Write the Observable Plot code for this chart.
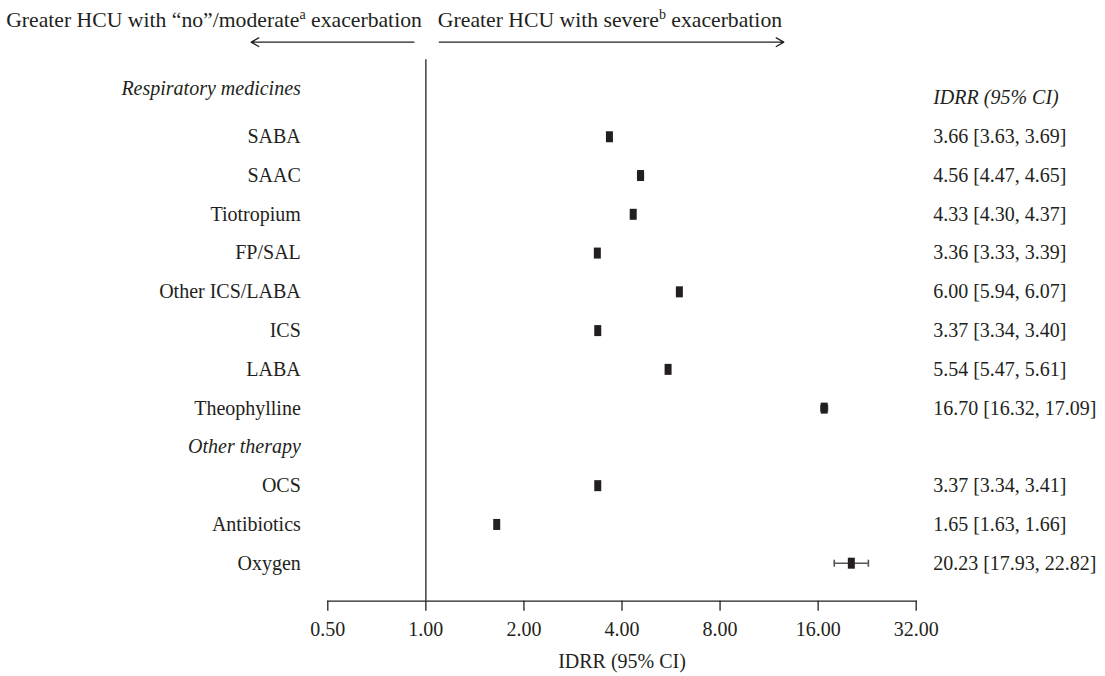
<!DOCTYPE html>
<html>
<head>
<meta charset="utf-8">
<script src="https://cdn.jsdelivr.net/npm/d3@7"></script>
<script src="https://cdn.jsdelivr.net/npm/@observablehq/plot@0.6"></script>
<style>
  html, body { margin: 0; padding: 0; background: #fff; }
</style>
</head>
<body>
<div id="chart"></div>
<script>
// ---- data ----
const labels = ["Respiratory medicines", "SABA", "SAAC", "Tiotropium", "FP/SAL", "Other ICS/LABA",
  "ICS", "LABA", "Theophylline", "Other therapy", "OCS", "Antibiotics", "Oxygen"];
const headingRows = ["Respiratory medicines", "Other therapy"];
const estimate = [null, 3.66, 4.56, 4.33, 3.36, 6.00, 3.37, 5.54, 16.70, null, 3.37, 1.65, 20.23];
const lower    = [null, 3.63, 4.47, 4.30, 3.33, 5.94, 3.34, 5.47, 16.32, null, 3.34, 1.63, 17.93];
const upper    = [null, 3.69, 4.65, 4.37, 3.39, 6.07, 3.40, 5.61, 17.09, null, 3.41, 1.66, 22.82];
const xTicks = [0.5, 1, 2, 4, 8, 16, 32];
const axisTitle = "IDRR (95% CI)";
const columnTitle = "IDRR (95% CI)";
const headerLeft = ["Greater HCU with \u201cno\u201d/moderate", "a", " exacerbation"];
const headerRight = ["Greater HCU with severe", "b", " exacerbation"];
const arrowTips = [0.291, 12.55]; // where the header arrows end, in IDRR units
const arrowRow = -1.44;           // header arrow row (row-index units)

// ---- tables built from the arrays ----
const rows = labels.map((label, i) => ({
  label, i,
  heading: headingRows.includes(label),
  est: estimate[i], lo: lower[i], hi: upper[i],
  txt: estimate[i] == null ? null :
    `${estimate[i].toFixed(2)} [${lower[i].toFixed(2)}, ${upper[i].toFixed(2)}]`
}));
const dataRows = rows.filter(d => d.est != null);
const leftArrow = [{from: 1, to: arrowTips[0]}];
const rightArrow = [{from: 1, to: arrowTips[1]}];

const ink = "#231f20";
const barSymbol = {draw(ctx) { ctx.rect(-3.5, -5.5, 7, 11); }};
const capSymbol = {draw(ctx) { ctx.moveTo(0, -3.5); ctx.lineTo(0, 3.5); }};

const plot = Plot.plot({
  width: 1105,
  height: 676,
  marginTop: 59.3,
  marginBottom: 75.3,
  marginLeft: 327.3,
  marginRight: 189.3,
  style: {fontFamily: "'Liberation Serif', 'Times New Roman', serif", fontSize: "20px", color: ink, background: "#fff"},
  x: {type: "log", base: 2, domain: [0.5, 32]},
  y: {domain: [0, 12], range: [97.5, 562.7], axis: null},
  marks: [
    Plot.ruleX([1], {stroke: ink, strokeWidth: 1.3}),
    Plot.frame({anchor: "bottom", stroke: ink, strokeWidth: 1.3}),
    Plot.axisX(xTicks, {tickSize: 10, tickPadding: 11, tickFormat: d3.format(".2f"),
      label: null, stroke: ink, strokeWidth: 1.3, fill: ink, fontSize: 20}),
    Plot.text([axisTitle], {frameAnchor: "bottom", lineAnchor: "middle", dy: 60, fill: ink, fontSize: 20}),
    // row labels
    Plot.text(rows.filter(d => !d.heading), {y: "i", text: "label", frameAnchor: "left",
      textAnchor: "end", dx: -27, fill: ink, fontSize: 20}),
    Plot.text(rows.filter(d => d.heading && d.i === 0), {y: "i", text: "label", frameAnchor: "left",
      textAnchor: "end", dx: -27, dy: -9, fill: ink, fontSize: 20, fontStyle: "italic"}),
    Plot.text(rows.filter(d => d.heading && d.i !== 0), {y: "i", text: "label", frameAnchor: "left",
      textAnchor: "end", dx: -27, fill: ink, fontSize: 20, fontStyle: "italic"}),
    // right column
    Plot.text([columnTitle], {y: 0, frameAnchor: "right", textAnchor: "start", dx: 17,
      fill: ink, fontSize: 20, fontStyle: "italic"}),
    Plot.text(dataRows, {y: "i", text: "txt", frameAnchor: "right", textAnchor: "start", dx: 17,
      fill: ink, fontSize: 20}),
    // CIs
    Plot.ruleY(dataRows, {y: "i", x1: "lo", x2: "hi", stroke: "#555", strokeWidth: 1.6}),
    Plot.dot(dataRows, {y: "i", x: "lo", symbol: capSymbol, stroke: "#555", strokeWidth: 1.6, fill: "none"}),
    Plot.dot(dataRows, {y: "i", x: "hi", symbol: capSymbol, stroke: "#555", strokeWidth: 1.6, fill: "none"}),
    Plot.dot(dataRows, {y: "i", x: "est", symbol: barSymbol, fill: ink, stroke: "none"}),
    // header
    Plot.text([headerLeft.join("")], {x: 1, frameAnchor: "top", lineAnchor: "middle", dy: -40,
      textAnchor: "end", dx: -4, fill: ink, fontSize: 21.7, className: "hdr-left"}),
    Plot.text([headerRight.join("")], {x: 1, frameAnchor: "top", lineAnchor: "middle", dy: -40,
      textAnchor: "start", dx: 12, fill: ink, fontSize: 21.7, className: "hdr-right"}),
    Plot.arrow(leftArrow, {x1: "from", x2: "to", y1: arrowRow, y2: arrowRow,
      insetStart: 12, stroke: ink, strokeWidth: 1.3, headLength: 10}),
    Plot.arrow(rightArrow, {x1: "from", x2: "to", y1: arrowRow, y2: arrowRow,
      insetStart: 13.4, stroke: ink, strokeWidth: 1.3, headLength: 10})
  ]
});

// superscripts in header
function superscript(cls, parts) {
  const t = d3.select(plot).select(`g.${cls} text`);
  t.text(null);
  t.append("tspan").text(parts[0]);
  t.append("tspan").attr("font-size", 14).attr("dy", -8).text(parts[1]);
  t.append("tspan").attr("dy", 8).text(parts[2]);
}
superscript("hdr-left", headerLeft);
superscript("hdr-right", headerRight);

document.getElementById("chart").appendChild(plot);
</script>
</body>
</html>
